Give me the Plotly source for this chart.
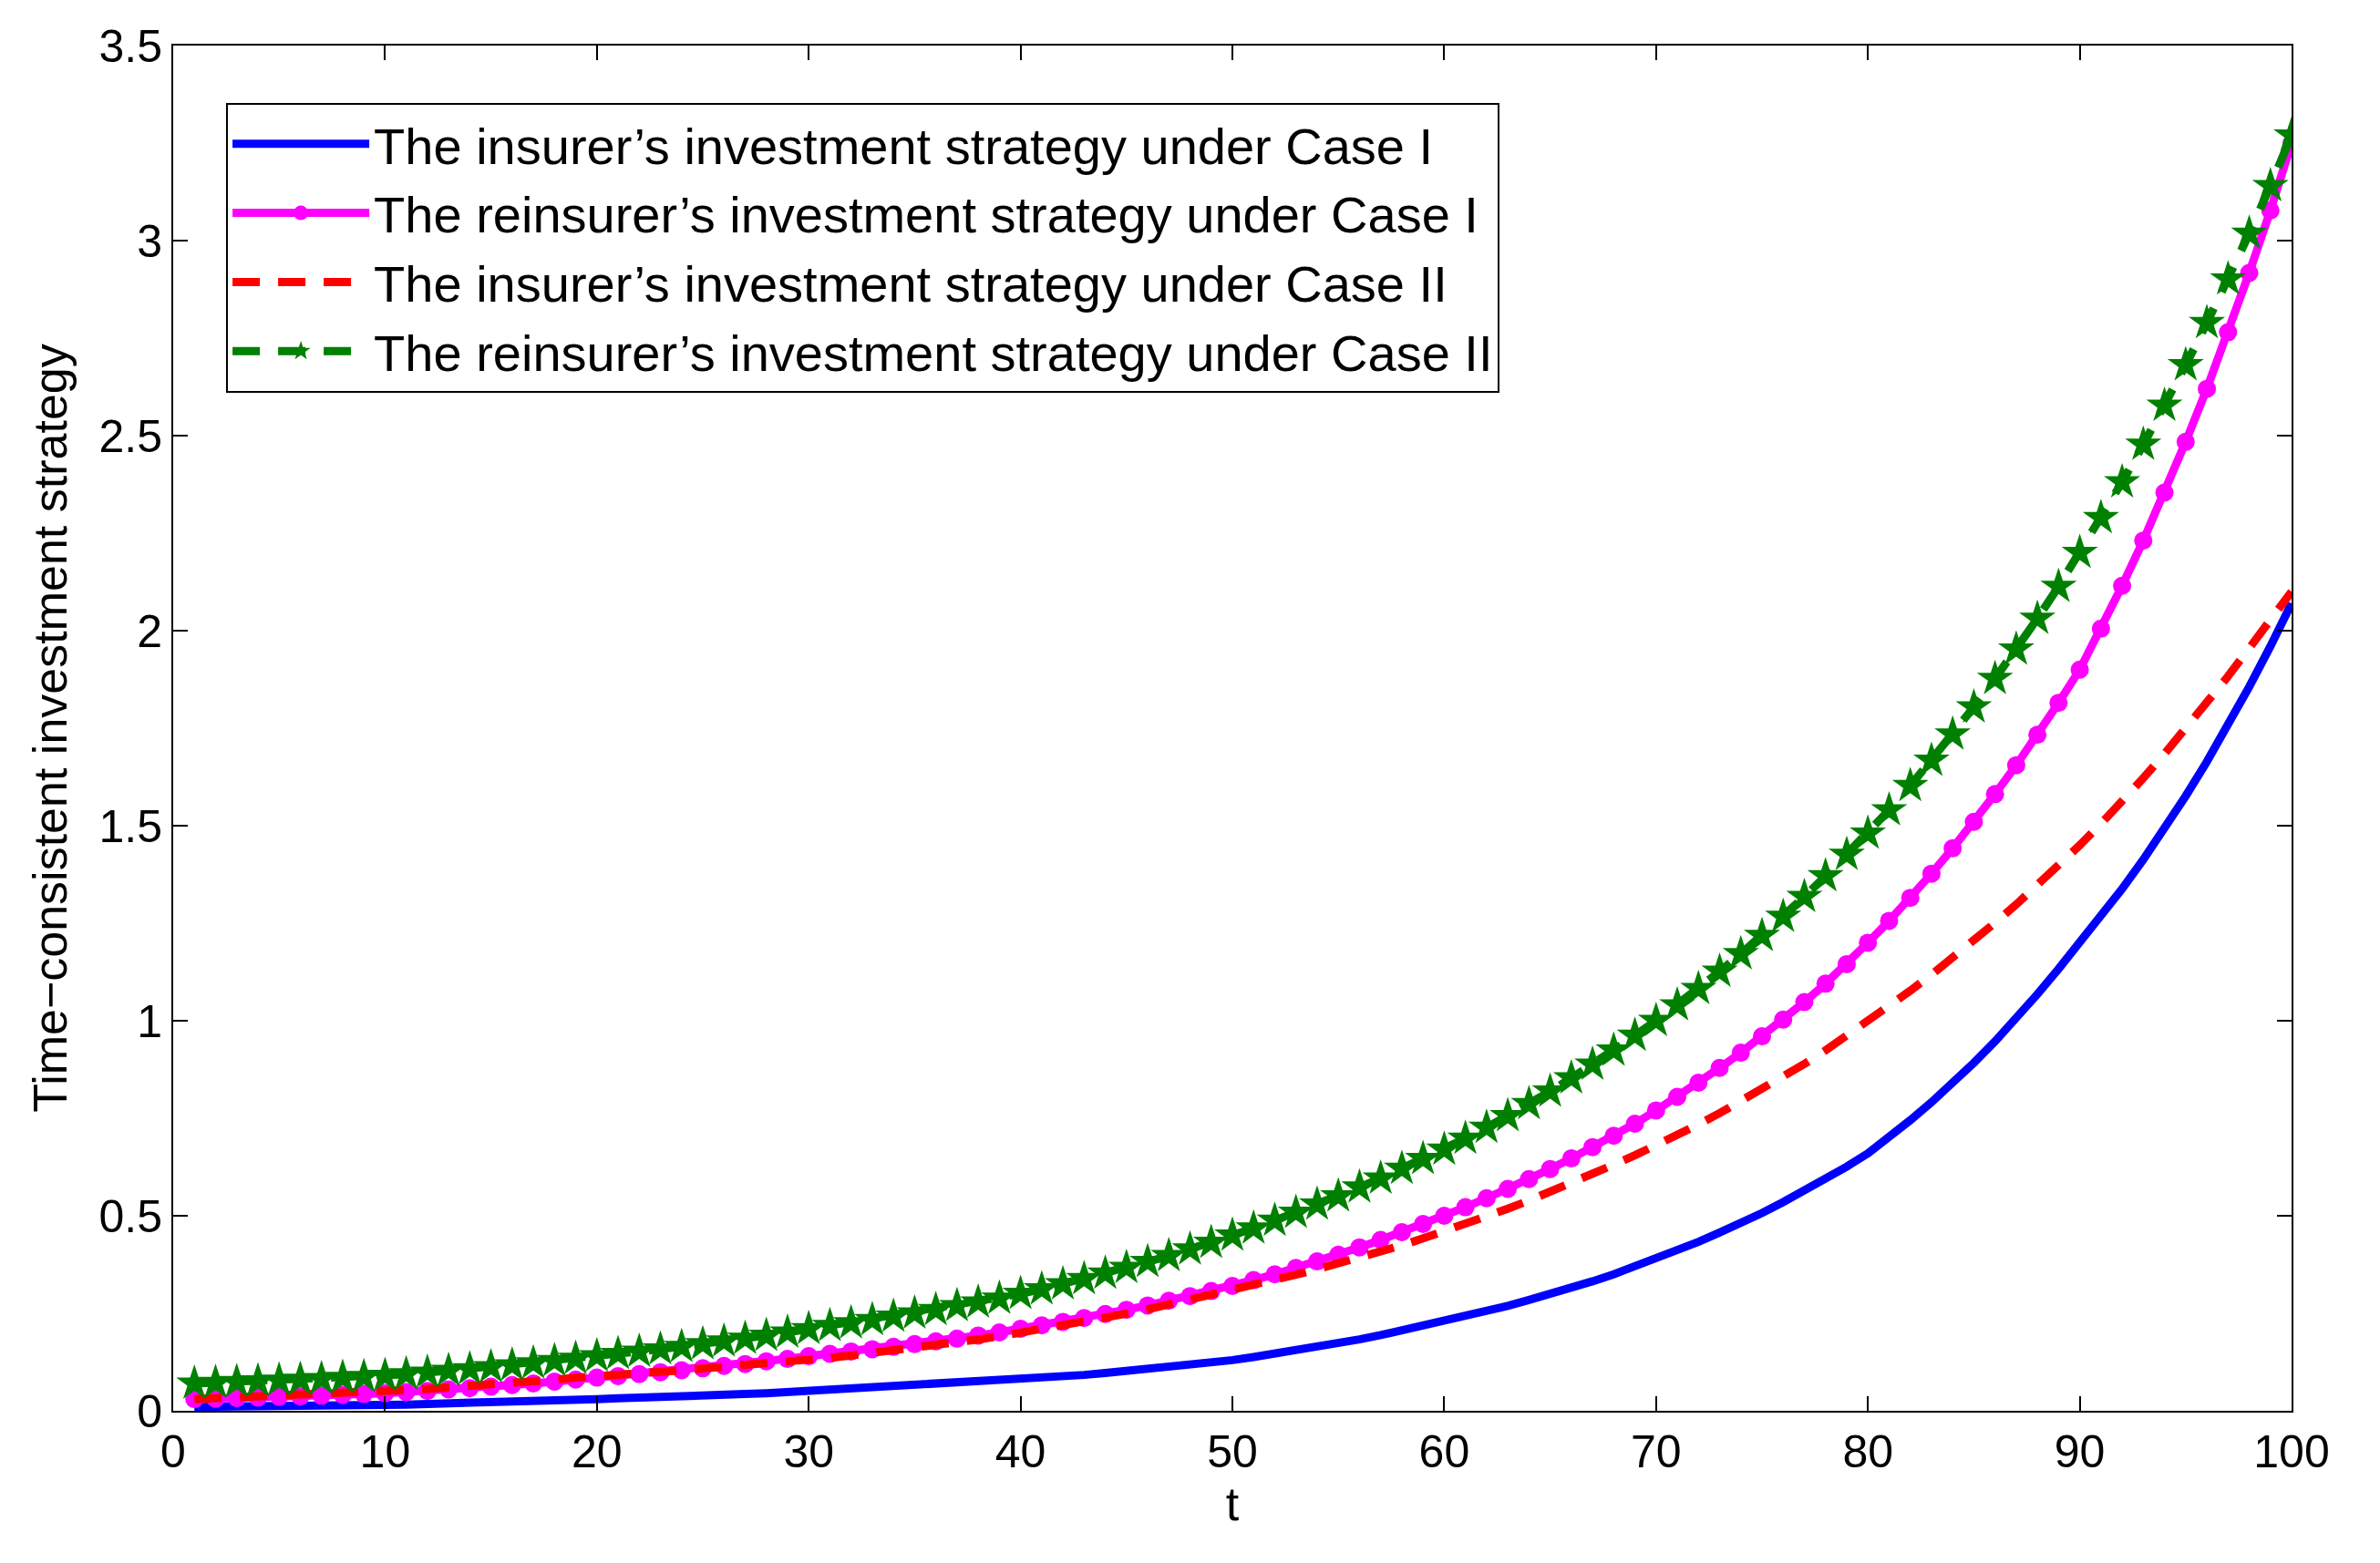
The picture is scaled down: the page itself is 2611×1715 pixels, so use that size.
import plotly.graph_objects as go

t = list(range(1, 101))
insurer_case1 = [0.010,0.010,0.011,0.011,0.012,0.012,0.013,0.013,0.014,0.015,
0.016,0.017,0.018,0.020,0.021,0.023,0.024,0.026,0.028,0.030,
0.032,0.033,0.035,0.037,0.039,0.041,0.043,0.045,0.048,0.050,
0.052,0.055,0.058,0.061,0.063,0.066,0.069,0.073,0.076,0.080,
0.084,0.088,0.092,0.097,0.102,0.107,0.112,0.118,0.124,0.130,
0.138,0.146,0.155,0.164,0.173,0.183,0.194,0.206,0.218,0.230,
0.242,0.255,0.269,0.284,0.299,0.315,0.332,0.350,0.370,0.390,
0.411,0.433,0.457,0.481,0.507,0.535,0.564,0.594,0.626,0.660,
0.701,0.745,0.791,0.840,0.892,0.947,1.006,1.068,1.133,1.200,
1.267,1.338,1.413,1.492,1.576,1.664,1.757,1.856,1.960,2.070]
insurer_case2 = [0.030,0.032,0.034,0.036,0.038,0.040,0.042,0.045,0.047,0.050,
0.053,0.056,0.060,0.063,0.067,0.071,0.075,0.080,0.085,0.090,
0.093,0.097,0.100,0.104,0.108,0.112,0.116,0.121,0.125,0.130,
0.136,0.142,0.148,0.154,0.161,0.168,0.175,0.183,0.191,0.200,
0.209,0.218,0.228,0.238,0.249,0.260,0.272,0.284,0.297,0.310,
0.323,0.336,0.349,0.363,0.377,0.392,0.408,0.424,0.442,0.460,
0.479,0.498,0.518,0.539,0.561,0.583,0.607,0.631,0.655,0.680,
0.707,0.734,0.763,0.793,0.824,0.856,0.889,0.924,0.961,1.000,
1.038,1.077,1.118,1.161,1.205,1.251,1.298,1.347,1.398,1.450,
1.505,1.562,1.622,1.684,1.748,1.814,1.883,1.955,2.026,2.100]
reinsurer_case1 = [0.030,0.031,0.033,0.034,0.036,0.037,0.039,0.041,0.043,0.045,
0.048,0.051,0.055,0.058,0.062,0.066,0.070,0.075,0.080,0.085,
0.089,0.094,0.099,0.104,0.109,0.115,0.120,0.127,0.133,0.140,
0.146,0.152,0.158,0.164,0.171,0.178,0.185,0.193,0.201,0.210,
0.219,0.228,0.238,0.248,0.259,0.270,0.282,0.294,0.307,0.320,
0.335,0.350,0.366,0.383,0.400,0.419,0.438,0.458,0.479,0.500,
0.522,0.545,0.569,0.594,0.620,0.647,0.676,0.705,0.736,0.770,
0.805,0.841,0.879,0.918,0.960,1.003,1.048,1.095,1.145,1.200,
1.256,1.315,1.377,1.442,1.510,1.581,1.655,1.733,1.815,1.900,
2.005,2.115,2.231,2.354,2.484,2.620,2.765,2.917,3.077,3.250]
reinsurer_case2 = [0.070,0.072,0.074,0.076,0.078,0.080,0.082,0.085,0.087,0.090,
0.094,0.098,0.103,0.107,0.112,0.117,0.122,0.128,0.134,0.140,
0.146,0.152,0.158,0.164,0.171,0.178,0.185,0.193,0.201,0.210,
0.218,0.225,0.233,0.242,0.250,0.259,0.269,0.278,0.288,0.300,
0.312,0.325,0.338,0.352,0.367,0.382,0.397,0.414,0.431,0.450,
0.468,0.488,0.508,0.529,0.550,0.573,0.596,0.621,0.646,0.670,
0.698,0.726,0.756,0.787,0.819,0.853,0.888,0.924,0.962,1.000,
1.040,1.082,1.126,1.171,1.218,1.267,1.318,1.371,1.426,1.480,
1.540,1.602,1.667,1.734,1.804,1.877,1.952,2.031,2.113,2.200,
2.289,2.381,2.477,2.577,2.681,2.789,2.901,3.018,3.140,3.270]

names = ["The insurer’s investment strategy under Case I",
         "The reinsurer’s investment strategy under Case I",
         "The insurer’s investment strategy under Case II",
         "The reinsurer’s investment strategy under Case II"]

fig = go.Figure()
fig.add_trace(go.Scatter(x=t, y=insurer_case1, name=names[0], mode="lines",
                         line=dict(color="#0000ff", width=9)))
fig.add_trace(go.Scatter(x=t, y=reinsurer_case1, name=names[1], mode="lines+markers",
                         line=dict(color="#ff00ff", width=9),
                         marker=dict(symbol="circle", size=20, color="#ff00ff")))
fig.add_trace(go.Scatter(x=t, y=insurer_case2, name=names[2], mode="lines",
                         line=dict(color="#ff0000", width=9, dash="30px,20px")))
fig.add_trace(go.Scatter(x=t, y=reinsurer_case2, name=names[3], mode="lines+markers",
                         line=dict(color="#008000", width=9, dash="30px,20px"),
                         marker=dict(symbol="star", size=30, color="#008000")))

axis = dict(showgrid=False, zeroline=False, showline=True, linecolor="black", linewidth=2,
            mirror="ticks", ticks="inside", ticklen=16, tickwidth=2, tickcolor="black",
            tickfont=dict(size=50, color="black"))
fig.update_layout(
    width=2611, height=1715, plot_bgcolor="white", paper_bgcolor="white",
    font=dict(family="Liberation Sans, Arial", color="black"),
    margin=dict(l=182, r=105, t=42, b=175),
    xaxis=dict(axis, range=[0, 100], dtick=10,
               title=dict(text="t", font=dict(size=52), standoff=8)),
    yaxis=dict(axis, range=[0, 3.5], dtick=0.5,
               title=dict(text="Time−consistent investment strategy", font=dict(size=52), standoff=18)),
    legend=dict(x=0.025, y=0.958, xanchor="left", yanchor="top", bgcolor="white",
                bordercolor="black", borderwidth=2, font=dict(size=56), itemwidth=150,
                tracegroupgap=0),
    showlegend=True,
)
fig.write_html("out.html")
